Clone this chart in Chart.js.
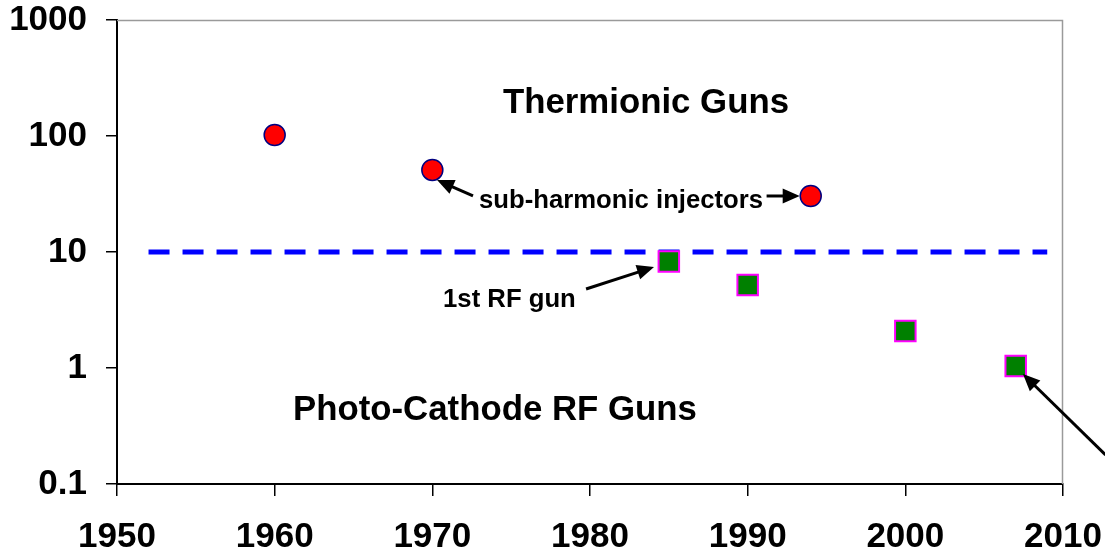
<!DOCTYPE html>
<html>
<head>
<meta charset="utf-8">
<script src="https://cdn.jsdelivr.net/npm/chart.js@4/dist/chart.umd.min.js"></script>
<style>
html,body{margin:0;padding:0;background:#fff;}
#wrap{width:1105px;height:557px;position:relative;}
</style>
</head>
<body>
<div id="wrap"><canvas id="c" width="1105" height="557"></canvas></div>
<script>
// ---- data ----
const thermionicYears = [1960, 1970, 1994];
const thermionicValues = [102, 51, 30.4];
const photoYears = [1985, 1990, 2000, 2007];
const photoValues = [8.3, 5.2, 2.08, 1.04];
const dividerYears = [1952, 2009];
const dividerValue = 10;
const xTicks = [1950, 1960, 1970, 1980, 1990, 2000, 2010];
const yTicks = [0.1, 1, 10, 100, 1000];

// annotation labels (baseline anchored, centred)
const labelTexts = ["Thermionic Guns", "Photo-Cathode RF Guns", "sub-harmonic injectors", "1st RF gun"];
const labelYears = [1983.55, 1973.97, 1981.97, 1974.89];
const labelValues = [157.8, 0.356, 23.9, 3.36];
const labelSizes = [34.8, 34.8, 25.7, 25.7];
// arrows: tail (year,value) -> head (year,value)
const arrowTailYears = [1972.58, 1991.2, 1979.75, 2012.7];
const arrowTailValues = [30.4, 30.4, 4.8, 0.178];
const arrowHeadYears = [1970.3, 1993.3, 1984.06, 2007.46];
const arrowHeadValues = [41.8, 30.4, 7.43, 0.887];

const FONT = "'Liberation Sans', Arial, sans-serif";

const annotationPlugin = {
  id: 'annot',
  afterDatasetsDraw(chart) {
    const ctx = chart.ctx;
    const xs = chart.scales.x, ys = chart.scales.y;
    const a = chart.chartArea;
    ctx.save();
    // gray frame top & right
    ctx.strokeStyle = '#9a9a9a';
    ctx.lineWidth = 1.5;
    ctx.beginPath();
    ctx.moveTo(a.left, a.top + 0.5);
    ctx.lineTo(a.right - 0.5, a.top + 0.5);
    ctx.lineTo(a.right - 0.5, a.bottom);
    ctx.stroke();
    // labels
    ctx.fillStyle = '#000';
    ctx.textAlign = 'center';
    ctx.textBaseline = 'alphabetic';
    for (let i = 0; i < labelTexts.length; i++) {
      ctx.font = 'bold ' + labelSizes[i] + 'px ' + FONT;
      ctx.fillText(labelTexts[i], xs.getPixelForValue(labelYears[i]), ys.getPixelForValue(labelValues[i]));
    }
    // arrows
    ctx.strokeStyle = '#000';
    ctx.fillStyle = '#000';
    ctx.lineWidth = 3;
    for (let i = 0; i < arrowTailYears.length; i++) {
      const x1 = xs.getPixelForValue(arrowTailYears[i]);
      const y1 = ys.getPixelForValue(arrowTailValues[i]);
      const x2 = xs.getPixelForValue(arrowHeadYears[i]);
      const y2 = ys.getPixelForValue(arrowHeadValues[i]);
      const ang = Math.atan2(y2 - y1, x2 - x1);
      const hl = 17, hw = 7.5;
      const bx = x2 - hl * Math.cos(ang), by = y2 - hl * Math.sin(ang);
      ctx.beginPath();
      ctx.moveTo(x1, y1);
      ctx.lineTo(bx + 2 * Math.cos(ang), by + 2 * Math.sin(ang));
      ctx.stroke();
      ctx.beginPath();
      ctx.moveTo(x2, y2);
      ctx.lineTo(bx + hw * Math.sin(ang), by - hw * Math.cos(ang));
      ctx.lineTo(bx - hw * Math.sin(ang), by + hw * Math.cos(ang));
      ctx.closePath();
      ctx.fill();
    }
    ctx.restore();
  }
};

new Chart(document.getElementById('c'), {
  type: 'scatter',
  data: {
    datasets: [
      {
        type: 'line',
        data: dividerYears.map(x => ({x, y: dividerValue})),
        borderColor: '#0000ff',
        borderWidth: 5,
        borderDash: [21, 13],
        pointRadius: 0,
        fill: false,
        order: 3
      },
      {
        data: thermionicYears.map((x, i) => ({x, y: thermionicValues[i]})),
        pointStyle: 'circle',
        pointRadius: 10.5,
        backgroundColor: '#ff0000',
        borderColor: '#000080',
        borderWidth: 1.5,
        order: 1
      },
      {
        data: photoYears.map((x, i) => ({x, y: photoValues[i]})),
        pointStyle: 'rect',
        pointRadius: 14.5,
        backgroundColor: '#008000',
        borderColor: '#ff00ff',
        borderWidth: 2,
        order: 2
      }
    ]
  },
  options: {
    responsive: false,
    animation: false,
    events: [],
    layout: { padding: { top: 20, right: 42, left: 0, bottom: 0 } },
    plugins: { legend: { display: false }, tooltip: { enabled: false } },
    scales: {
      x: {
        type: 'linear',
        min: 1950, max: 2010,
        afterBuildTicks: s => { s.ticks = xTicks.map(v => ({value: v})); },
        afterFit: s => { s.height = 73; s.paddingLeft = 0; s.paddingRight = 0; },
        ticks: {
          color: '#000',
          font: { family: FONT, size: 35, weight: 'bold' },
          padding: 20,
          maxRotation: 0,
          autoSkip: false,
          callback: v => String(v)
        },
        grid: { drawOnChartArea: false, tickLength: 12, color: '#000', lineWidth: 1.5 },
        border: { color: '#000', width: 2 }
      },
      y: {
        type: 'logarithmic',
        min: 0.1, max: 1000,
        afterBuildTicks: s => { s.ticks = yTicks.map(v => ({value: v})); },
        afterFit: s => { s.width = 117; s.paddingTop = 0; s.paddingBottom = 0; },
        ticks: {
          color: '#000',
          font: { family: FONT, size: 35, weight: 'bold' },
          padding: 19,
          callback: v => String(v),
          autoSkip: false
        },
        grid: { drawOnChartArea: false, tickLength: 11, color: '#000', lineWidth: 1.5 },
        border: { color: '#000', width: 2 }
      }
    }
  },
  plugins: [annotationPlugin]
});
</script>
</body>
</html>
